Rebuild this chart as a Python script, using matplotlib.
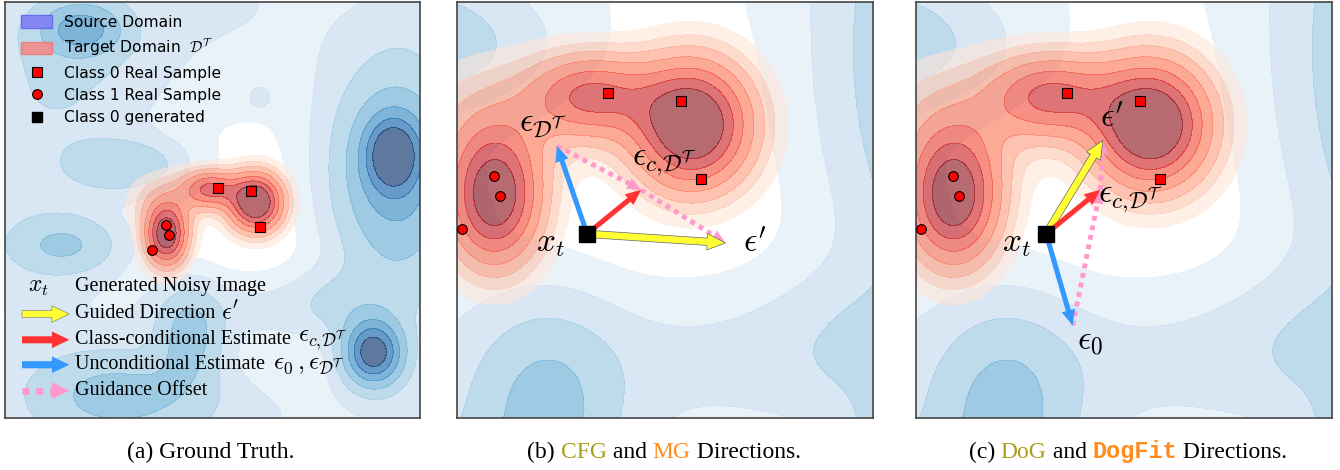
import numpy as np
import matplotlib
matplotlib.use("Agg")
import matplotlib.pyplot as plt
import matplotlib.patches as mpatches
from matplotlib.lines import Line2D

plt.rcParams['mathtext.fontset'] = 'cm'

# ---- density components (x, y, sigma_x, sigma_y, weight) in panel (a) units ----
src_x = [9.35, 9.30, 8.00, 8.87, 1.85, 1.50, 3.00, 1.45, 2.80, 4.45, 6.14, 0.50, 5.50, 5.00, 10.0, 6.00]
src_y = [6.35, 5.80, 2.80, 1.56, 9.35, 8.50, 6.05, 4.15, 0.60, 2.00, 7.69, 5.00, 10.0, 0.00, 5.00, 2.60]
src_sx = [0.45, 1.10, 0.80, 0.50, 0.70, 1.50, 0.95, 0.95, 1.50, 0.55, 0.18, 2.00, 3.00, 4.00, 1.00, 2.00]
src_sy = [0.60, 1.80, 0.60, 0.55, 0.45, 1.50, 0.45, 0.50, 0.80, 0.80, 0.18, 4.00, 2.00, 1.00, 5.00, 0.60]
src_w = [0.60, 0.50, 0.12, 0.88, 0.42, 0.12, 0.26, 0.27, 0.30, 0.32, 0.12, 0.14, 0.12, 0.12, 0.10, 0.13]

tgt_x = [3.89, 6.04, 4.95, 3.90]
tgt_y = [4.40, 5.19, 5.50, 5.20]
tgt_sx = [0.33, 0.42, 0.45, 0.60]
tgt_sy = [0.48, 0.45, 0.30, 0.45]
tgt_w = [1.00, 1.15, 0.66, 0.18]

src_levels = [0.05, 0.12, 0.22, 0.36, 0.52, 0.68, 0.84, 3.0]
src_shades = [0.12, 0.25, 0.38, 0.50, 0.65, 0.80, 1.00]
tgt_levels = [0.05, 0.11, 0.19, 0.31, 0.47, 0.64, 0.82, 3.0]
tgt_shades = [0.10, 0.22, 0.35, 0.48, 0.60, 0.75, 0.93]

# real samples
class0_x = [5.13, 5.93, 6.14]
class0_y = [5.54, 5.45, 4.60]
class1_x = [3.88, 3.95, 3.54]
class1_y = [4.63, 4.41, 4.05]

# zoom window used in (b) and (c)
zoom_x = (3.48, 8.02)
zoom_y = (1.99, 6.53)

# guidance vectors
x_t = (4.90, 4.00)
eps_cond = (5.49, 4.48)
b_uncond = (4.57, 4.96)
b_guided = (6.41, 3.90)
c_uncond = (5.19, 3.00)
c_guided = (5.52, 5.02)

YELLOW = '#ffff33'
RED = '#ff3333'
BLUE = '#3399ff'
PINK = '#ff99cc'
OLIVE = '#a89f1a'
ORANGE = '#ff8c1a'


def field(X, Y, cx, cy, sx, sy, w):
    Z = np.zeros_like(X)
    for i in range(len(cx)):
        Z += w[i] * np.exp(-((X - cx[i]) ** 2 / (2 * sx[i] ** 2) + (Y - cy[i]) ** 2 / (2 * sy[i] ** 2)))
    return Z


gx = np.linspace(0, 10, 700)
X, Y = np.meshgrid(gx, gx)
Zs = field(X, Y, src_x, src_y, src_sx, src_sy, src_w)
Zt = field(X, Y, tgt_x, tgt_y, tgt_sx, tgt_sy, tgt_w)
blue_cols = [plt.cm.Blues(v) for v in src_shades]
red_cols = [plt.cm.Reds(v) for v in tgt_shades]


def arrow(ax, p0, p1, color, width=0.06, hw=0.16, hl=0.18, ec=None, lw=0.0):
    a = mpatches.FancyArrow(p0[0], p0[1], p1[0] - p0[0], p1[1] - p0[1], width=width,
                            head_width=hw, head_length=hl, length_includes_head=True,
                            fc=color, ec=ec if ec else color, lw=lw, zorder=6)
    ax.add_patch(a)


def dotted_arrow(ax, p0, p1, hw=0.16, hl=0.17, lw=3.5):
    p0 = np.array(p0); p1 = np.array(p1)
    d = p1 - p0
    u = d / np.hypot(*d)
    base = p1 - u * hl
    ax.plot([p0[0], base[0]], [p0[1], base[1]], color=PINK, lw=lw, ls=(0, (1, 1)),
            solid_capstyle='butt', zorder=5)
    ax.add_patch(mpatches.FancyArrow(base[0], base[1], u[0] * hl, u[1] * hl, width=0.0,
                                     head_width=hw, head_length=hl, length_includes_head=True,
                                     fc=PINK, ec=PINK, lw=0, zorder=5))


def base_panel(rect):
    ax = fig.add_axes(rect)
    ax.contourf(X, Y, Zs, levels=src_levels, colors=blue_cols, alpha=0.65, zorder=1)
    ax.contourf(X, Y, Zt, levels=tgt_levels, colors=red_cols, alpha=0.6, zorder=2)
    ax.set_xticks([]); ax.set_yticks([])
    for s in ax.spines.values():
        s.set_color('#444444'); s.set_linewidth(1.2)
    return ax


fig = plt.figure(figsize=(13.4, 4.7), dpi=100)
W, H = 1340.0, 470.0

# ---------------- (a) ----------------
ax1 = base_panel([5 / W, 1 - 418 / H, 415 / W, 416 / H])
ax1.plot(class0_x, class0_y, 's', color='red', mec='black', mew=0.8, ms=7, zorder=4)
ax1.plot(class1_x, class1_y, 'o', color='red', mec='black', mew=0.8, ms=7, zorder=4)
ax1.set_xlim(0, 10); ax1.set_ylim(0, 10)

handles = [mpatches.Patch(facecolor='#7f7ff5', edgecolor='#6666ee', alpha=0.9),
           mpatches.Patch(facecolor='#f28a8a', edgecolor='#ee7777', alpha=0.9),
           Line2D([], [], marker='s', color='red', mec='black', mew=0.8, ls='none', ms=7),
           Line2D([], [], marker='o', color='red', mec='black', mew=0.8, ls='none', ms=7),
           Line2D([], [], marker='s', color='black', ls='none', ms=7)]
labels = ['Source Domain', r'Target Domain  $\mathcal{D}^\mathcal{T}$', 'Class 0 Real Sample',
          'Class 1 Real Sample', 'Class 0 generated']
ax1.legend(handles, labels, loc='upper left', bbox_to_anchor=(0.005, 1.003), frameon=False,
           fontsize=11.2, handlelength=2.0, handleheight=0.85, labelspacing=0.47, handletextpad=0.75)

rows_y = [3.15, 2.50, 1.88, 1.28, 0.66]
ax1.text(0.8, rows_y[0] + 0.03, r'$x_t$', fontsize=17, ha='center', va='center', zorder=7)
arrow(ax1, (0.41, rows_y[1]), (1.55, rows_y[1]), YELLOW, width=0.17, hw=0.4, hl=0.42, ec='#888888', lw=0.5)
arrow(ax1, (0.41, rows_y[2]), (1.55, rows_y[2]), RED, width=0.17, hw=0.4, hl=0.42)
arrow(ax1, (0.41, rows_y[3]), (1.55, rows_y[3]), BLUE, width=0.17, hw=0.4, hl=0.42)
dotted_arrow(ax1, (0.41, rows_y[4]), (1.55, rows_y[4]), hw=0.4, hl=0.42, lw=5)
row_text = ['Generated Noisy Image', 'Guided Direction', 'Class-conditional Estimate',
            'Unconditional Estimate', 'Guidance Offset']
for ty, s in zip(rows_y, row_text):
    ax1.text(1.68, ty, s, fontsize=14.5, family='Liberation Serif', va='center', zorder=7)
ax1.text(5.2, rows_y[1] + 0.03, r"$\epsilon'$", fontsize=18, va='center', zorder=7)
ax1.text(7.05, rows_y[2] - 0.03, r'$\epsilon_{c,\!\mathcal{D}^\mathcal{T}}$', fontsize=18, va='center', zorder=7)
ax1.text(6.45, rows_y[3] - 0.03, r'$\epsilon_0\,,\epsilon_{\mathcal{D}^\mathcal{T}}$', fontsize=18, va='center', zorder=7)

# ---------------- (b) and (c) ----------------
ax2 = base_panel([457 / W, 1 - 418 / H, 416 / W, 416 / H])
ax3 = base_panel([916 / W, 1 - 418 / H, 416 / W, 416 / H])
for ax in (ax2, ax3):
    ax.plot(class0_x, class0_y, 's', color='red', mec='black', mew=0.8, ms=7, zorder=4)
    ax.plot(class1_x, class1_y, 'o', color='red', mec='black', mew=0.8, ms=7, zorder=4)
    ax.set_xlim(*zoom_x); ax.set_ylim(*zoom_y)

# (b) CFG / MG
dotted_arrow(ax2, b_uncond, eps_cond, hw=0.13, hl=0.15)
dotted_arrow(ax2, eps_cond, b_guided, hw=0.13, hl=0.15)
arrow(ax2, x_t, b_guided, YELLOW, width=0.08, hw=0.18, hl=0.2, ec='#666666', lw=0.5)
arrow(ax2, x_t, eps_cond, RED, width=0.055, hw=0.15, hl=0.17)
arrow(ax2, x_t, b_uncond, BLUE, width=0.055, hw=0.15, hl=0.17)
ax2.plot(*x_t, 's', color='black', ms=12, zorder=8)
ax2.text(4.42, 5.19, r'$\epsilon_{\mathcal{D}^\mathcal{T}}$', fontsize=24, ha='center', va='center', zorder=9)
ax2.text(5.75, 4.78, r'$\epsilon_{c,\!\mathcal{D}^\mathcal{T}}$', fontsize=24, ha='center', va='center', zorder=9)
ax2.text(4.50, 3.90, r'$x_t$', fontsize=24, ha='center', va='center', zorder=9)
ax2.text(6.73, 3.90, r"$\epsilon'$", fontsize=24, ha='center', va='center', zorder=9)

# (c) DoG / DogFit
dotted_arrow(ax3, c_uncond, eps_cond, hw=0.13, hl=0.15)
dotted_arrow(ax3, eps_cond, c_guided, hw=0.13, hl=0.15)
arrow(ax3, x_t, c_guided, YELLOW, width=0.08, hw=0.18, hl=0.2, ec='#666666', lw=0.5)
arrow(ax3, x_t, eps_cond, RED, width=0.055, hw=0.15, hl=0.17)
arrow(ax3, x_t, c_uncond, BLUE, width=0.055, hw=0.15, hl=0.17)
ax3.plot(*x_t, 's', color='black', ms=12, zorder=8)
ax3.text(5.62, 5.26, r"$\epsilon'$", fontsize=24, ha='center', va='center', zorder=9)
ax3.text(5.82, 4.37, r'$\epsilon_{c,\!\mathcal{D}^\mathcal{T}}$', fontsize=24, ha='center', va='center', zorder=9)
ax3.text(4.57, 3.90, r'$x_t$', fontsize=24, ha='center', va='center', zorder=9)
ax3.text(5.38, 2.84, r'$\epsilon_0$', fontsize=24, ha='center', va='center', zorder=9)

# ---------------- captions ----------------
renderer = fig.canvas.get_renderer()
serif = dict(family='Liberation Serif', weight='normal')
mono = dict(family='Liberation Mono', weight='bold')


def caption(xc, parts, y=1 - 458 / H):
    texts = [fig.text(0, y, s, color=c, fontsize=17, va='baseline', **f) for s, c, f in parts]
    widths = [t.get_window_extent(renderer).width / W for t in texts]
    x = xc - sum(widths) / 2
    for t, w in zip(texts, widths):
        t.set_x(x)
        x += w


caption(211 / W, [('(a) Ground Truth.', 'black', serif)])
caption(664 / W, [('(b) ', 'black', serif), ('CFG', OLIVE, serif), (' and ', 'black', serif),
                  ('MG', ORANGE, serif), (' Directions.', 'black', serif)])
caption(1128 / W, [('(c) ', 'black', serif), ('DoG', OLIVE, serif), (' and ', 'black', serif),
                   ('DogFit', ORANGE, mono), (' Directions.', 'black', serif)])

fig.savefig('out.png', dpi=100)
